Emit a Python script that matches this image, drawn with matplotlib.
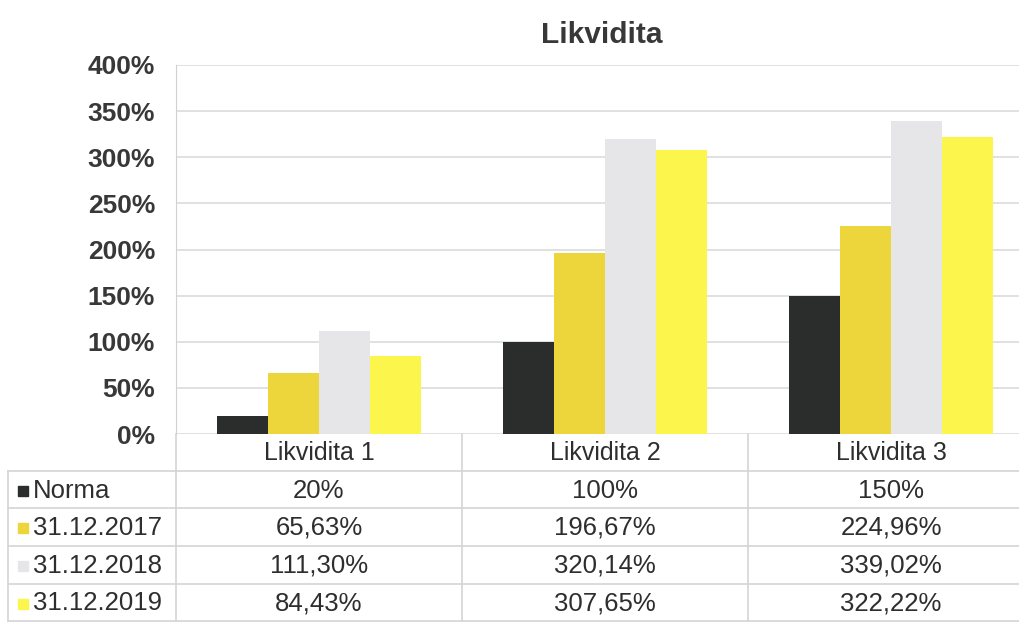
import matplotlib
matplotlib.use("Agg")
import matplotlib.pyplot as plt
import numpy as np
from matplotlib.lines import Line2D
from matplotlib.patches import Rectangle

plt.rcParams['font.family'] = ['Liberation Sans', 'DejaVu Sans']

categories = ["Likvidita 1", "Likvidita 2", "Likvidita 3"]
series_names = ["Norma", "31.12.2017", "31.12.2018", "31.12.2019"]
norma = [20, 100, 150]
v2017 = [65.63, 196.67, 224.96]
v2018 = [111.30, 320.14, 339.02]
v2019 = [84.43, 307.65, 322.22]
table_text = [
    ["20%", "100%", "150%"],
    ["65,63%", "196,67%", "224,96%"],
    ["111,30%", "320,14%", "339,02%"],
    ["84,43%", "307,65%", "322,22%"],
]
yticks = [0, 50, 100, 150, 200, 250, 300, 350, 400]
colors = ["#2b2d2d", "#ecd63c", "#e6e6e8", "#fbf54c"]

W, H = 1019, 623
fig = plt.figure(figsize=(W / 100, H / 100), dpi=100)

def fx(x):
    return x / W

def fy(y):
    return 1 - y / H

# plot area in pixels
x0, x1 = 176, 1034
ytop, ybot = 65, 434
ax = fig.add_axes([fx(x0), fy(ybot), fx(x1) - fx(x0), fy(ytop) - fy(ybot)])
ax.set_xlim(-0.5, 2.5)
ax.set_ylim(0, 400)

data = [norma, v2017, v2018, v2019]
bw = 0.178
xs = np.arange(len(categories))
for i, (vals, c) in enumerate(zip(data, colors)):
    ax.bar(xs + (i - 1.5) * bw, vals, width=bw, color=c, zorder=3, linewidth=0)

ax.set_yticks(yticks)
ax.set_yticklabels([f"{t}%" for t in yticks], fontsize=19, fontweight='bold', color='#383838')
ax.set_xticks([])
ax.grid(axis='y', color='#dcdcdc', linewidth=1.2, zorder=0)
for s in ['top', 'right', 'bottom']:
    ax.spines[s].set_visible(False)
ax.spines['left'].set_color('#d0d0d8')
ax.tick_params(axis='y', length=0, pad=15)

fig.text(fx(602), fy(35), "Likvidita", fontsize=21.5, fontweight='bold', color='#383838',
         ha='center', va='center')

# table
line_c = '#d4d4d4'
col_edges = [176, 462, 748, 1034]
row_edges = [434, 471, 508, 546, 584, 621]
leg_left = 8

def hline(y, xa, xb):
    fig.add_artist(Line2D([fx(xa), fx(xb)], [fy(y), fy(y)], color=line_c, linewidth=1.2))

def vline(x, ya, yb):
    fig.add_artist(Line2D([fx(x), fx(x)], [fy(ya), fy(yb)], color=line_c, linewidth=1.2))

hline(row_edges[1], leg_left, 1034)
for y in row_edges[2:]:
    hline(y, leg_left, 1034)
for x in col_edges:
    vline(x, row_edges[0], row_edges[-1])
vline(leg_left, row_edges[1], row_edges[-1])

txt_c = '#2e2e2e'
for j, cat in enumerate(categories):
    cx = (col_edges[j] + col_edges[j + 1]) / 2
    fig.text(fx(cx), fy((row_edges[0] + row_edges[1]) / 2 + 1), cat, fontsize=18,
             color=txt_c, ha='center', va='center')

for i, name in enumerate(series_names):
    cy = (row_edges[i + 1] + row_edges[i + 2]) / 2 + 1
    fig.add_artist(Rectangle((fx(18), fy(cy + 5)), fx(10), fy(0) - fy(10),
                             color=colors[i], transform=fig.transFigure))
    fig.text(fx(33), fy(cy), name, fontsize=18.5, color=txt_c, ha='left', va='center')
    for j in range(len(categories)):
        cx = (col_edges[j] + col_edges[j + 1]) / 2
        fig.text(fx(cx), fy(cy), table_text[i][j], fontsize=18.5, color=txt_c,
                 ha='center', va='center')

fig.savefig("out.png", dpi=100)
